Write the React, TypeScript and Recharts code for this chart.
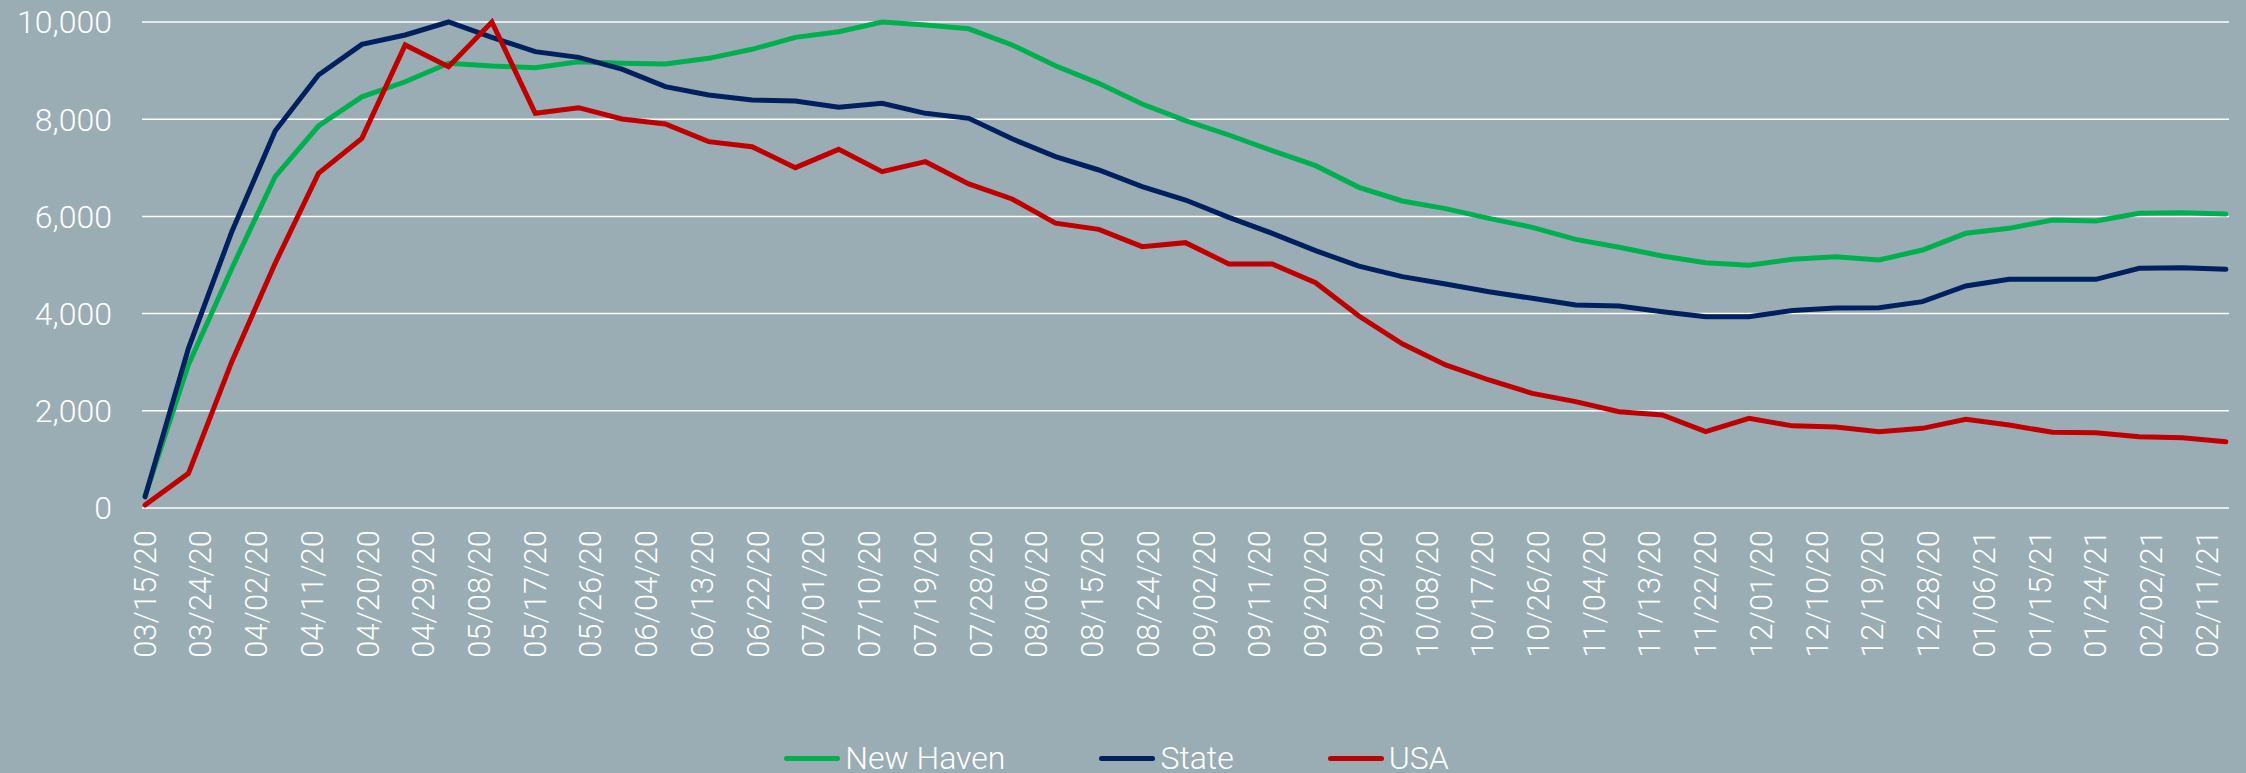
import React from "react";
import { LineChart, Line, XAxis, YAxis, CartesianGrid, Legend } from "recharts";

if (typeof document !== "undefined") {
  document.body.style.margin = "0";
  document.body.style.background = "#9AADB4";
}

// Weekly observation dates (MM/DD/YY)
const weekDates = [
  "03/15/20", "03/22/20", "03/29/20", "04/05/20", "04/12/20", "04/19/20", "04/26/20",
  "05/03/20", "05/10/20", "05/17/20", "05/24/20", "05/31/20", "06/07/20", "06/14/20",
  "06/21/20", "06/28/20", "07/05/20", "07/12/20", "07/19/20", "07/26/20", "08/02/20",
  "08/09/20", "08/16/20", "08/23/20", "08/30/20", "09/06/20", "09/13/20", "09/20/20",
  "09/27/20", "10/04/20", "10/11/20", "10/18/20", "10/25/20", "11/01/20", "11/08/20",
  "11/15/20", "11/22/20", "11/29/20", "12/06/20", "12/13/20", "12/20/20", "12/27/20",
  "01/03/21", "01/10/21", "01/17/21", "01/24/21", "01/31/21", "02/07/21", "02/14/21",
];

const newHaven = [
  250, 2950, 4930, 6820, 7860, 8460, 8770, 9150, 9095, 9060, 9180, 9150, 9136, 9252,
  9438, 9684, 9801, 10000, 9938, 9860, 9527, 9101, 8738, 8313, 7970, 7675, 7353, 7044,
  6598, 6317, 6160, 5960, 5775, 5528, 5364, 5185, 5048, 4995, 5117, 5171, 5103, 5309,
  5652, 5754, 5926, 5905, 6063, 6077, 6049,
];

const state = [
  230, 3285, 5686, 7757, 8909, 9540, 9733, 10000, 9684, 9390, 9273, 9030, 8669, 8498,
  8395, 8374, 8244, 8326, 8121, 8018, 7596, 7229, 6955, 6612, 6337, 5981, 5652, 5295,
  4975, 4760, 4609, 4451, 4314, 4177, 4156, 4040, 3937, 3937, 4065, 4115, 4122, 4246,
  4568, 4705, 4705, 4705, 4931, 4945, 4911,
];

const usa = [
  60, 713, 3011, 5034, 6886, 7606, 9527, 9081, 10000, 8121, 8237, 8004, 7901, 7538,
  7435, 7003, 7380, 6920, 7126, 6667, 6358, 5860, 5734, 5377, 5460, 5021, 5021, 4636,
  3950, 3380, 2945, 2634, 2359, 2188, 1982, 1914, 1571, 1845, 1690, 1667, 1571, 1639,
  1824, 1708, 1557, 1550, 1468, 1447, 1365,
];

const xTickLabels = [
  "03/15/20", "03/24/20", "04/02/20", "04/11/20", "04/20/20", "04/29/20", "05/08/20",
  "05/17/20", "05/26/20", "06/04/20", "06/13/20", "06/22/20", "07/01/20", "07/10/20",
  "07/19/20", "07/28/20", "08/06/20", "08/15/20", "08/24/20", "09/02/20", "09/11/20",
  "09/20/20", "09/29/20", "10/08/20", "10/17/20", "10/26/20", "11/04/20", "11/13/20",
  "11/22/20", "12/01/20", "12/10/20", "12/19/20", "12/28/20", "01/06/21", "01/15/21",
  "01/24/21", "02/02/21", "02/11/21",
];

const yTicks = [0, 2000, 4000, 6000, 8000, 10000];

const seriesInfo = [
  { key: "newHaven", name: "New Haven", color: "#00B050" },
  { key: "state", name: "State", color: "#002060" },
  { key: "usa", name: "USA", color: "#C00000" },
];

const FONT = "Roboto, 'Noto Sans', sans-serif";

const toDay = (s: string) => {
  const [m, d, y] = s.split("/").map(Number);
  return Math.round((Date.UTC(2000 + y, m - 1, d) - Date.UTC(2020, 2, 15)) / 86400000);
};

const data = weekDates.map((d, i) => ({
  day: toDay(d),
  newHaven: newHaven[i],
  state: state[i],
  usa: usa[i],
}));

const tickDays = xTickLabels.map(toDay);
const labelByDay: Record<number, string> = {};
xTickLabels.forEach((l) => (labelByDay[toDay(l)] = l));

const XTick = (props: any) => {
  const { x, y, payload } = props;
  return (
    <text
      x={x}
      y={y}
      transform={`rotate(-90 ${x} ${y})`}
      textAnchor="end"
      dominantBaseline="central"
      fill="#FFFFFF"
      fontSize={31}
      fontFamily={FONT}
      fontWeight={300}
    >
      {labelByDay[payload.value]}
    </text>
  );
};

const renderLegend = () => (
  <div
    style={{
      display: "flex",
      justifyContent: "center",
      alignItems: "center",
      height: 30,
      gap: 94,
      paddingLeft: 4,
    }}
  >
    {seriesInfo.map((s) => (
      <div key={s.key} style={{ display: "flex", alignItems: "center" }}>
        <span
          style={{
            display: "inline-block",
            width: 56,
            height: 5,
            borderRadius: 3,
            background: s.color,
            marginRight: 5,
          }}
        />
        <span
          style={{
            fontFamily: FONT,
            fontWeight: 300,
            fontSize: 32,
            lineHeight: "30px",
            color: "#FFFFFF",
          }}
        >
          {s.name}
        </span>
      </div>
    ))}
  </div>
);

export default function App() {
  return (
    <div style={{ width: 2246, height: 773, background: "#9AADB4" }}>
      <LineChart
        width={2246}
        height={773}
        data={data}
        margin={{ top: 22, right: 17, left: 0, bottom: 0 }}
      >
        <CartesianGrid horizontal vertical={false} stroke="#FFFFFF" strokeWidth={1.5} />
        <XAxis
          dataKey="day"
          type="number"
          domain={[-0.5, 336.5]}
          ticks={tickDays}
          interval={0}
          axisLine={false}
          tickLine={false}
          tickSize={0}
          tickMargin={22}
          height={235}
          tick={<XTick />}
        />
        <YAxis
          domain={[0, 10000]}
          ticks={yTicks}
          width={142}
          axisLine={false}
          tickLine={false}
          tickSize={0}
          tickMargin={30}
          tickFormatter={(v: number) => v.toLocaleString("en-US")}
          tick={{ fill: "#FFFFFF", fontSize: 32, fontFamily: FONT, fontWeight: 300 }}
        />
        <Legend verticalAlign="bottom" align="center" height={30} content={renderLegend} />
        {seriesInfo.map((s) => (
          <Line
            key={s.key}
            type="linear"
            dataKey={s.key}
            name={s.name}
            stroke={s.color}
            strokeWidth={5}
            strokeLinecap="round"
            dot={false}
            activeDot={false}
            isAnimationActive={false}
          />
        ))}
      </LineChart>
    </div>
  );
}
